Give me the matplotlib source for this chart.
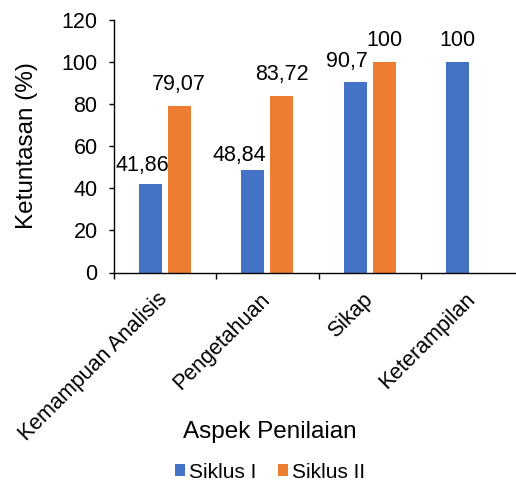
import numpy as np
import matplotlib
matplotlib.use("Agg")
import matplotlib.pyplot as plt

plt.rcParams['font.family'] = ['Liberation Sans', 'DejaVu Sans']

# Ketuntasan per aspek penilaian
aspek = ['Kemampuan Analisis', 'Pengetahuan', 'Sikap', 'Keterampilan']
siklus_1 = [41.86, 48.84, 90.7, 100]
siklus_2 = [79.07, 83.72, 100, np.nan]
label_1 = ['41,86', '48,84', '90,7', '100']
label_2 = ['79,07', '83,72', '100', '']

blue = '#4472C4'
orange = '#ED7D31'
fs = 15.5

# nudges (pixels) so the blue labels don't collide with the orange ones
nudge_1 = [(-8, -3), (-13, -7), (-8, -1), (0, 0)]

fig = plt.figure(figsize=(5.16, 4.84), dpi=100)
ax = fig.add_axes([113.5 / 516, 1 - 272.5 / 484, 410 / 516, 252.5 / 484])

x = np.arange(len(aspek))
w = 0.225
off = 0.142
ax.bar(x - off, siklus_1, w, color=blue, label='Siklus I')
ax.bar(x + off, siklus_2, w, color=orange, label='Siklus II')

for i in range(len(aspek)):
    dx, dy = nudge_1[i]
    ax.annotate(label_1[i], (x[i] - off, siklus_1[i]), xytext=(dx, 11 + dy),
                textcoords='offset pixels', ha='center', va='bottom', fontsize=fs)
    if not np.isnan(siklus_2[i]):
        ax.annotate(label_2[i], (x[i] + off, siklus_2[i]), xytext=(0, 11),
                    textcoords='offset pixels', ha='center', va='bottom', fontsize=fs)

ax.set_xlim(-0.5, 3.5)
ax.set_ylim(0, 120)
ax.set_yticks(range(0, 121, 20))

ax.set_xticks(x)
ax.set_xticklabels(aspek, rotation=45, ha='right', va='center',
                   rotation_mode='anchor', fontsize=fs)
ax.set_xticks(np.arange(-0.5, 3.6, 1), minor=True)
ax.tick_params(axis='x', which='major', length=0, pad=17)
ax.tick_params(axis='x', which='minor', length=4, width=1, direction='out')
ax.tick_params(axis='y', length=3.5, width=1, pad=8, labelsize=fs)

for s in ['top', 'right']:
    ax.spines[s].set_visible(False)
for s in ['left', 'bottom']:
    ax.spines[s].set_linewidth(1.0)

fig.text(27 / 516, 1 - 146 / 484, 'Ketuntasan (%)', rotation=90,
         ha='center', va='center', fontsize=17.5)
fig.text(270 / 516, 1 - 438 / 484, 'Aspek Penilaian',
         ha='center', va='baseline', fontsize=17.5)

fig.legend(loc='center', bbox_to_anchor=(270 / 516, 1 - 472 / 484), ncol=2,
           frameon=False, fontsize=15, handlelength=0.48, handleheight=0.48,
           handletextpad=0.2, columnspacing=1.0, borderpad=0.2)

fig.savefig('out.png', dpi=100)
